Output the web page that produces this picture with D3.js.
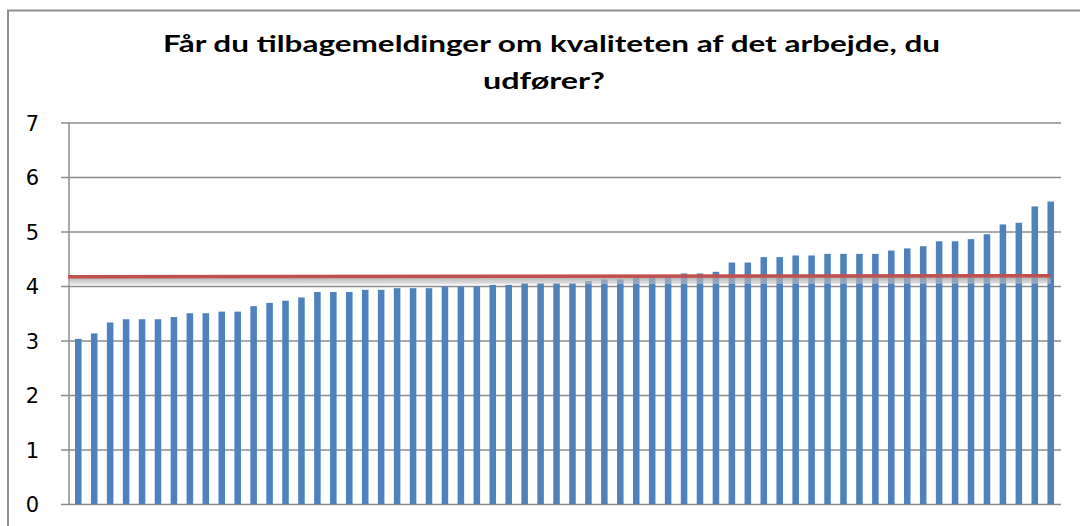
<!DOCTYPE html>
<html>
<head>
<meta charset="utf-8">
<script src="https://cdn.jsdelivr.net/npm/d3@7"></script>
<style>
  body { margin: 0; background: #fff; }
  svg { display: block; }
</style>
</head>
<body>
<script>
// values, sorted low to high (62 units)
const values = [
  3.03, 3.13, 3.33, 3.39, 3.39, 3.39, 3.43, 3.50, 3.50, 3.53,
  3.53, 3.63, 3.69, 3.73, 3.79, 3.89, 3.89, 3.89, 3.93, 3.93,
  3.96, 3.96, 3.96, 3.99, 3.99, 3.99, 4.02, 4.02, 4.05, 4.05,
  4.05, 4.05, 4.09, 4.12, 4.12, 4.16, 4.16, 4.17, 4.23, 4.23,
  4.26, 4.43, 4.43, 4.53, 4.53, 4.56, 4.56, 4.59, 4.59, 4.59,
  4.59, 4.65, 4.69, 4.73, 4.82, 4.82, 4.86, 4.95, 5.13, 5.16,
  5.46, 5.55
];
const categories = values.map((d, i) => 'E' + (i + 1));
const yTicks = [0, 1, 2, 3, 4, 5, 6, 7];
const avgLine = [4.17, 4.19]; // start / end of the red reference line
const titleLines = ['Får du  tilbagemeldinger om kvaliteten af det arbejde, du', 'udfører?'];

const width = 1080, height = 526;
const plotLeft = 69, plotRight = 1061, plotTop = 122.5, plotBottom = 504;

const svg = d3.select('body').append('svg')
  .attr('width', width).attr('height', height);

// chart frame (right and bottom edges fall outside the picture)
svg.append('path')
  .attr('d', 'M8,530V10.5H1082')
  .attr('fill', 'none').attr('stroke', '#8f8f8f').attr('stroke-width', 2);

// title
svg.selectAll('text.title')
  .data(titleLines)
  .join('text')
  .attr('class', 'title')
  .attr('x', (d, i) => i === 0 ? 551.5 : 544)
  .attr('y', (d, i) => 52 + i * 37)
  .attr('text-anchor', 'middle')
  .attr('font-family', 'Lato, sans-serif')
  .attr('font-weight', 'bold')
  .attr('font-size', 23.5)
  .attr('textLength', (d, i) => i === 0 ? 777 : 122)
  .attr('lengthAdjust', 'spacingAndGlyphs')
  .attr('fill', '#000')
  .text(d => d);

const x = d3.scaleBand()
  .domain(categories)
  .range([70.3, 1058.7])
  .paddingInner(0.59)
  .paddingOuter(0.295);

const y = d3.scaleLinear()
  .domain([0, 7])
  .range([plotBottom, plotTop]);

// gridlines + tick marks
const yAxis = d3.axisLeft(y)
  .tickValues(yTicks)
  .tickSize(-(plotRight - plotLeft))
  .tickPadding(0)
  .tickFormat('');
const gAxis = svg.append('g')
  .attr('transform', `translate(${plotLeft},0)`)
  .call(yAxis);
gAxis.select('.domain').remove();
gAxis.selectAll('.tick line')
  .attr('x1', -8)
  .attr('stroke', '#8c8c8c').attr('stroke-width', 1.5);

// tick labels
svg.append('g').selectAll('text')
  .data(yTicks)
  .join('text')
  .attr('x', 39)
  .attr('y', d => y(d) + 8)
  .attr('text-anchor', 'end')
  .attr('font-family', 'DejaVu Sans, sans-serif')
  .attr('font-size', 21)
  .attr('fill', '#000')
  .text(d => d);

// vertical axis line
svg.append('line')
  .attr('x1', plotLeft).attr('x2', plotLeft)
  .attr('y1', y(7)).attr('y2', y(0))
  .attr('stroke', '#8c8c8c').attr('stroke-width', 1.5);

// bars
svg.append('g').selectAll('rect')
  .data(values)
  .join('rect')
  .attr('x', (d, i) => x(categories[i]))
  .attr('y', d => y(d))
  .attr('width', x.bandwidth())
  .attr('height', d => y(0) - y(d))
  .attr('fill', '#4f81bd');

// red reference line with soft grey shadow
const defs = svg.append('defs');
const grad = defs.append('linearGradient')
  .attr('id', 'shadow').attr('x1', 0).attr('x2', 0).attr('y1', 0).attr('y2', 1);
grad.append('stop').attr('offset', '0%').attr('stop-color', '#9a9a9a').attr('stop-opacity', 0.85);
grad.append('stop').attr('offset', '100%').attr('stop-color', '#cfcfcf').attr('stop-opacity', 0.5);

const lineX0 = 68;
const lineX1 = x(categories[categories.length - 1]) + x.bandwidth() / 2;

svg.append('path')
  .attr('d', `M${lineX0},${y(avgLine[0]) + 1}L${lineX1},${y(avgLine[1]) + 1}L${lineX1},${y(avgLine[1]) + 8}L${lineX0},${y(avgLine[0]) + 8}Z`)
  .attr('fill', 'url(#shadow)');

svg.append('line')
  .attr('x1', lineX0).attr('x2', lineX1)
  .attr('y1', y(avgLine[0])).attr('y2', y(avgLine[1]))
  .attr('stroke', '#c0504d').attr('stroke-width', 3.5);
</script>
</body>
</html>
